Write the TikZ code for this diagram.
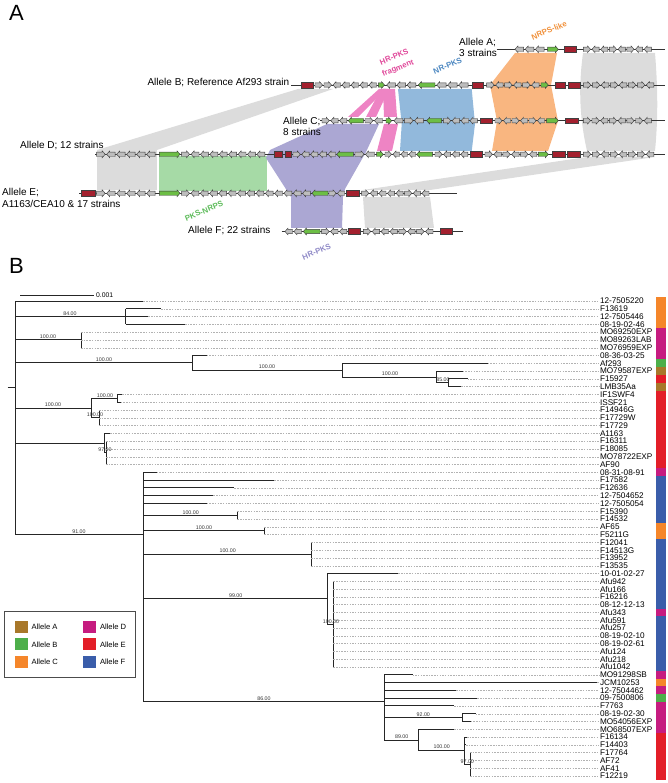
\documentclass[tikz,border=0pt]{standalone}
\usepackage{fontspec}
\setmainfont{Liberation Sans}
\definecolor{cA}{HTML}{A8782A}
\definecolor{cB}{HTML}{4DAF4A}
\definecolor{cC}{HTML}{F5862A}
\definecolor{cD}{HTML}{C61C80}
\definecolor{cE}{HTML}{E31E28}
\definecolor{cF}{HTML}{3A5DAA}
\definecolor{gfill}{HTML}{BDBDBD}
\definecolor{ggreen}{HTML}{6CBE45}
\definecolor{gred}{HTML}{A3202E}
\definecolor{shgray}{HTML}{DCDCDC}
\definecolor{shgreen}{HTML}{A6DAA6}
\definecolor{shlav}{HTML}{ABA7D3}
\definecolor{shpink}{HTML}{EE84C4}
\definecolor{shblue}{HTML}{92B9DC}
\definecolor{shorange}{HTML}{F9B680}
\definecolor{lorange}{HTML}{F0903A}
\definecolor{lpink}{HTML}{E0489A}
\definecolor{lblue}{HTML}{4A86C0}
\definecolor{lgreen}{HTML}{5DBB5A}
\definecolor{llav}{HTML}{8E88C6}
\tikzset{
  gene/.style={draw=black!75,line width=0.45pt},
  redbox/.style={draw=black!75,line width=0.45pt,fill=gred},
  track/.style={draw=black!80,line width=0.7pt},
  br/.style={draw=black!85,line width=0.9pt},
  lead/.style={draw=black!30,dash pattern=on 1.5pt off 1.2pt,line width=0.4pt},
  leaf/.style={anchor=west,inner xsep=0.8pt,inner ysep=0pt,font=\fontsize{8.2}{9}\selectfont},
  blab/.style={font=\fontsize{5.3}{6}\selectfont,text=black!80,inner sep=0},
  allele/.style={font=\fontsize{10}{11.5}\selectfont,inner sep=0,align=left},
  glab/.style={font=\bfseries\fontsize{7.8}{9}\selectfont,rotate=22,inner sep=0},
  leg/.style={font=\fontsize{7.6}{8}\selectfont,anchor=west,inner sep=0},
  panel/.style={font=\fontsize{22}{24}\selectfont,anchor=north west,inner sep=0}
}
\newcommand{\gR}[4]{\draw[gene,fill=#4] (#1,#3-2.2) -- (#2-3,#3-2.2) -- (#2-3,#3-3.4) -- (#2,#3) -- (#2-3,#3+3.4) -- (#2-3,#3+2.2) -- (#1,#3+2.2) -- cycle;}
\newcommand{\gL}[4]{\draw[gene,fill=#4] (#2,#3-2.2) -- (#1+3,#3-2.2) -- (#1+3,#3-3.4) -- (#1,#3) -- (#1+3,#3+3.4) -- (#1+3,#3+2.2) -- (#2,#3+2.2) -- cycle;}
\newcommand{\rb}[3]{\draw[redbox] (#1,#3-2.8) rectangle (#2,#3+2.8);}
\newcommand{\grow}[4]{\foreach \d [count=\i from 0] in {#4}{\pgfmathsetmacro\xa{#2+\i*#3}\pgfmathsetmacro\xb{\xa+#3-1.5}\if\d r\gR{\xa}{\xb}{#1}{gfill}\else\gL{\xa}{\xb}{#1}{gfill}\fi}}
\begin{document}
\begin{tikzpicture}[x=1pt,y=-1pt]
\useasboundingbox (0,0) rectangle (668,783);
% ---------- Panel A ----------
\node[panel] (pA) at (9,5) {A};
% shaded synteny regions
\fill[shgray] (298,89) -- (333,89) -- (157,150) -- (97,150) -- cycle;
\fill[shgray] (97,150) rectangle (157,190);
\fill[shgreen] (159,156) rectangle (266.7,191);
\fill[shlav] (327,124) -- (379,124) -- (366,152) -- (345,189) -- (343,197) -- (342,228) -- (291,228) -- (291,197) -- (266,158) -- (270,150) -- cycle;
\fill[shpink] (379,89) -- (386,89) -- (358,117) -- (348,117) -- cycle;
\fill[shpink] (381,89) -- (389,89) -- (376,117) -- (366,117) -- cycle;
\fill[shpink] (383,89) -- (395,89) -- (397,117) -- (384,117) -- cycle;
\fill[shpink] (384,124) -- (398,124) -- (392,151) -- (377,151) -- cycle;
\fill[shblue] (398,89) -- (471.7,89) -- (475,124) -- (471.7,151) -- (400,151) -- (401.7,124) -- cycle;
\fill[shorange] (515,53) -- (557,53) -- (551,85) -- (558,121) -- (548,151) -- (492,151) -- (497,121) -- (490,85) -- cycle;
\fill[shgray] (583,53) -- (655,53) .. controls (658,90) and (658,120) .. (655,151) -- (587,151) .. controls (580,120) and (578,90) .. (583,53) -- cycle;
\fill[shgray] (587,157) -- (655,157) -- (430,190) -- (363,190) -- cycle;
\fill[shgray] (363,197) -- (430,197) -- (434,228) -- (365,228) -- cycle;
% track lines
\draw[track] (496.7,49.3) -- (665,49.3);
\draw[track] (291,85) -- (665,85);
\draw[track] (320,120.7) -- (665,120.7);
\draw[track] (95,154.3) -- (665,154.3);
\draw[track] (79.3,193.3) -- (456.7,193.3);
\draw[track] (281.7,231.5) -- (462.7,231.5);
% Track A
\grow{49.3}{515}{10.2}{l,l,l}
\gR{547.7}{558.3}{49.3}{ggreen}
\rb{564.3}{576.7}{49.3}
\grow{49.3}{583.3}{8.7}{r,l,l,r,l,r,l,l}
% Track B
\rb{301.7}{313.3}{85}
\grow{85}{315}{9}{r,r,l,l,l,l,l}
\gR{378.3}{384.5}{85}{ggreen}
\grow{85}{386.7}{10.2}{l,l,l}
\gL{418.3}{435}{85}{ggreen}
\grow{85}{436.7}{11}{l,l,l}
\rb{472.7}{483.3}{85}
\grow{85}{486.7}{9}{r,l,r,l,r,l}
\gR{541}{548.3}{85}{ggreen}
\rb{555}{565}{85}
\rb{568.3}{580}{85}
\grow{85}{583.3}{9}{r,r,l,r,l,r,r,l}
% Track C
\grow{120.7}{322}{8.8}{r,l,l}
\gL{348.3}{363.3}{120.7}{ggreen}
\grow{120.7}{365}{9.5}{r,l}
\gR{386}{391.7}{120.7}{ggreen}
\grow{120.7}{394}{10.3}{l,r,l}
\gL{426.7}{441.7}{120.7}{ggreen}
\grow{120.7}{443.3}{8.9}{r,l,l,l}
\rb{480}{492.3}{120.7}
\grow{120.7}{495}{8.5}{r,l,r,l,r,l}
\gR{546.7}{558.3}{120.7}{ggreen}
\rb{565}{578.3}{120.7}
\grow{120.7}{583.3}{8.7}{r,r,l,r,l,r,r,l}
% Track D
\grow{154.3}{96.7}{10}{r,l,l,l,l,l}
\gR{159.3}{180}{154.3}{ggreen}
\grow{154.3}{181.7}{9.4}{r,l,l,l,l,l,l,l,l}
\rb{274}{282.7}{154.3}
\rb{285}{291}{154.3}
\grow{154.3}{293}{8.8}{r,l,l,l,l}
\gL{336.7}{353.3}{154.3}{ggreen}
\grow{154.3}{355}{10.5}{r,l}
\gR{376.7}{383.3}{154.3}{ggreen}
\grow{154.3}{385}{8}{r,l,l,l}
\gL{416.7}{432.7}{154.3}{ggreen}
\grow{154.3}{435}{8.6}{r,l,l,l}
\rb{470}{482.7}{154.3}
\grow{154.3}{485}{8.9}{r,l,r,l,r,l}
\gR{538.3}{548.3}{154.3}{ggreen}
\rb{552.7}{565}{154.3}
\rb{567.3}{580}{154.3}
\grow{154.3}{583.3}{9}{r,r,l,r,l,r,r,l}
% Track E
\rb{81.7}{95}{193.3}
\grow{193.3}{96.7}{10}{r,l,l,l,l,l}
\gR{159.3}{180}{193.3}{ggreen}
\grow{193.3}{181.7}{9.3}{r,l,l,l,l,l,l,l,l,l,l,l,l,l}
\gL{312}{328}{193.3}{ggreen}
\grow{193.3}{329}{8.5}{r,l}
\rb{346}{359.3}{193.3}
\grow{193.3}{361.7}{8.6}{r,l,l,l,l,r,l,l}
% Track F
\grow{231.5}{285}{9}{l,l}
\gL{303.3}{320}{231.5}{ggreen}
\grow{231.5}{321.7}{8.9}{r,l,l}
\rb{348.3}{360.7}{231.5}
\grow{231.5}{363.3}{8.9}{r,l,l,l,r,l,r,l}
\rb{440}{452.3}{231.5}
% allele labels
\node[allele,anchor=west] (alA) at (459,47.5) {Allele A;\\3 strains};
\node[allele,anchor=east] (alB) at (289.5,82.7) {Allele B; Reference Af293 strain};
\node[allele,anchor=west] (alC) at (283,126.5) {Allele C;\\8 strains};
\node[allele,anchor=west] (alD) at (20,146) {Allele D; 12 strains};
\node[allele,anchor=west] (alE) at (2,197.8) {Allele E;\\A1163/CEA10 \& 17 strains};
\node[allele,anchor=west] (alF) at (188,231) {Allele F; 22 strains};
% gene class labels
\node[glab,text=lorange] (gNRPSl) at (549,30.5) {NRPS-like};
\node[glab,text=lpink] (gHRf1) at (394,57) {HR-PKS};
\node[glab,text=lpink] (gHRf2) at (398,68.5) {fragment};
\node[glab,text=lblue] (gNR) at (447.5,66) {NR-PKS};
\node[glab,text=lgreen] (gPKSN) at (204,211) {PKS-NRPS};
\node[glab,text=llav] (gHR) at (316.5,252) {HR-PKS};
% ---------- Panel B ----------
\node[panel] (pB) at (9,258) {B};
% scale bar
\draw[br] (20,295) -- (93.7,295);
\node[anchor=west,inner sep=0,font=\fontsize{6.8}{7}\selectfont] (sc) at (96,295) {0.001};
% root
\draw[br] (15.3,301) -- (15.3,534.3);
\draw[br] (7.7,387.3) -- (15.3,387.3);
% internal nodes
\foreach \x/\ya/\yb/\px/\ym [count=\k] in {125.7/308.8/324.4/15.3/316.6, 81/332.1/347.7/15.3/339.9, 192.3/355.5/370/15.3/362.7, 342.3/363.3/377/192.3/370, 436.7/371.1/382.8/342.3/377, 448.3/378.9/386.7/436.7/382.8, 91/398.3/417.8/15.3/408, 117/394.4/402.2/91/398.3, 99/410/425.6/91/417.8, 104.3/433.4/452.9/15.3/443.1, 106/441.2/464.5/104.3/452.9, 143.3/472.3/701.7/15.3/534.3, 237.3/511.3/519.1/143.3/515.2, 264.3/526.8/534.6/143.3/530.7, 311/542.4/565.8/143.3/554.1, 327.3/573.6/624.2/143.3/598.9, 333.3/581.4/667.1/327.3/624.2, 384.3/674.9/740/143.3/701.7, 462.3/713.8/721.6/384.3/717.7, 418.3/729.4/750.7/384.3/740, 464.3/737.2/764.4/418.3/750.7, 470/752.8/776.1/464.3/764.4}{
  \coordinate (n\k) at (\x,\ym);
  \draw[br] (\x,\ya) -- (\x,\yb);
  \draw[br] (\px,\ym) -- (n\k);
}
% leaves
\foreach \px/\tx/\lab [count=\i] in {15.3/143.3/12-7505220, 125.7/161/F13619, 125.7/148.3/12-7505446, 125.7/185/08-19-02-46, 81/81/MO69250EXP, 81/81/MO89263LAB, 81/81/MO76959EXP, 192.3/206.7/08-36-03-25, 342.3/487.7/Af293, 436.7/462.7/MO79587EXP, 448.3/467.7/F15927, 448.3/461/LMB35Aa, 117/122/IF1SWF4, 117/120.7/ISSF21, 99/99/F14946G, 99/99/F17729W, 99/99/F17729, 104.3/110/A1163, 106/106/F16311, 106/106/F18085, 106/106/MO78722EXP, 106/106/AF90, 143.3/156.7/08-31-08-91, 143.3/274.3/F17582, 143.3/234.3/F12636, 143.3/213.3/12-7504652, 143.3/206.7/12-7505054, 237.3/237.3/F15390, 237.3/237.3/F14532, 264.3/264.3/AF65, 264.3/264.3/F5211G, 311/311/F12041, 311/311/F14513G, 311/311/F13952, 311/311/F13535, 327.3/398.3/10-01-02-27, 333.3/333.3/Afu942, 333.3/333.3/Afu166, 333.3/333.3/F16216, 333.3/333.3/08-12-12-13, 333.3/333.3/Afu343, 333.3/333.3/Afu591, 333.3/333.3/Afu257, 333.3/333.3/08-19-02-10, 333.3/333.3/08-19-02-61, 333.3/333.3/Afu124, 333.3/333.3/Afu218, 333.3/333.3/Afu1042, 384.3/412.5/MO91298SB, 384.3/597/JCM10253, 384.3/456/12-7504462, 384.3/477.3/09-7500806, 384.3/454/F7763, 462.3/475.7/08-19-02-30, 462.3/470.7/MO54056EXP, 418.3/454/MO68507EXP, 464.3/467/F16134, 464.3/466/F14403, 470/470/F17764, 470/470/AF72, 470/470/AF41, 470/470/F12219}{
  \pgfmathsetmacro\yy{301+(\i-1)*7.787}
  \coordinate (t\i) at (\tx,\yy);
  \node[leaf] (lf\i) at (599,\yy) {\lab};
  \draw[lead] (t\i) -- (lf\i.west);
  \draw[br] (\px,\yy) -- (t\i);
}
% branch support labels
\foreach \x/\y/\t [count=\k] in {70/313.5/84.00, 48/336.5/100.00, 104/359.5/100.00, 267/366.5/100.00, 390/373.5/100.00, 443/380/85.00, 53/404.5/100.00, 105/395.5/100.00, 95/414.5/100.00, 105/450/97.00, 79/531.5/91.00, 190.7/512.5/100.00, 204/527.7/100.00, 227.7/551/100.00, 235.7/596/99.00, 331/621.7/100.00, 264/698.5/86.00, 423.3/715/92.00, 401.7/736.5/89.00, 441.7/746.5/100.00, 467.3/761.5/97.00}{
  \node[blab] (s\k) at (\x,\y) {\t};
}
% colour bar
\foreach \a/\b/\c in {1/4/cC, 5/8/cD, 9/9/cB, 10/10/cA, 11/11/cE, 12/12/cA, 13/22/cE, 23/23/cD, 24/29/cF, 30/31/cC, 32/40/cF, 41/41/cD, 42/48/cF, 49/49/cD, 50/50/cC, 51/51/cD, 52/52/cB, 53/56/cD, 57/62/cE}{
  \fill[fill=\c] (656,{301+(\a-1)*7.787-3.9}) rectangle (666,{301+(\b-1)*7.787+3.9});
}
% legend
\draw[draw=black!70,line width=0.6pt] (4.7,611.7) rectangle (135.7,677.3);
\foreach \sx/\sy/\c/\t [count=\k] in {15/620.7/cA/Allele A, 15/638.3/cB/Allele B, 15/656/cC/Allele C, 83.3/620.7/cD/Allele D, 83.3/638.3/cE/Allele E, 83.3/656/cF/Allele F}{
  \fill[fill=\c] (\sx,\sy) rectangle (\sx+12.7,\sy+12);
  \node[leg] (lg\k) at (\sx+16.5,\sy+6) {\t};
}
\end{tikzpicture}
\end{document}
